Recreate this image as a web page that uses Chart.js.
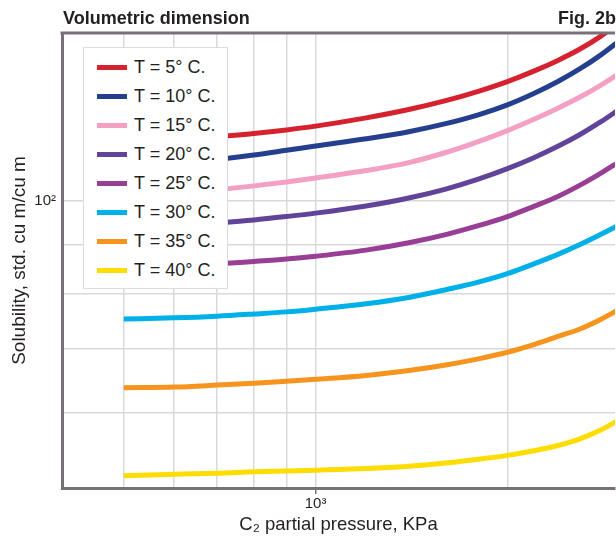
<!DOCTYPE html>
<html>
<head>
<meta charset="utf-8">
<script src="https://cdn.jsdelivr.net/npm/chart.js@4.4.1/dist/chart.umd.min.js"></script>
<style>
  html, body { margin: 0; padding: 0; background: #fff; }
  #wrap { position: relative; width: 616px; height: 536px; overflow: hidden;
          font-family: "Liberation Sans", Arial, sans-serif; color: #231f20; }
  #chart { position: absolute; left: 0; top: 0; }
  .head { position: absolute; top: 8px; font-weight: bold; font-size: 18px; }
  #legend { position: absolute; left: 83px; top: 47px; width: 145px; height: 242px;
            background: #fff; border: 1.5px solid #dcdcdc; box-sizing: border-box; padding-top: 5px; }
  .item { display: flex; align-items: center; height: 29px; font-size: 18px; }
  .swatch { width: 30px; height: 5px; margin-left: 13px; margin-right: 7px; }
</style>
</head>
<body>
<div id="wrap">
  <canvas id="chart" width="616" height="536"></canvas>
  <div class="head" style="left:63px">Volumetric dimension</div>
  <div class="head" style="right:0">Fig. 2b</div>
  <div id="legend"></div>
</div>
<script>
// C2 partial pressure, KPa
const pressure = [500, 600, 700, 800, 900, 1000, 1200, 1400, 1600, 1800, 2000, 2200, 2400, 2600, 2800, 3000];

// solubility, std. cu m/cu m, one list per temperature
const t5  = [115.2, 115.9, 116.8, 117.7, 118.7, 119.8, 122.2, 124.7, 127.4, 130.3, 133.4, 136.8, 140.4, 144.3, 148.8, 153.9];
const t10 = [108.4, 109.4, 110.5, 111.7, 113.0, 114.2, 116.2, 118.2, 120.5, 123.1, 126.1, 129.6, 133.4, 137.6, 142.2, 147.3];
const t15 = [100.9, 101.8, 102.7, 103.7, 104.7, 105.7, 107.6, 109.7, 112.4, 115.4, 118.5, 121.8, 125.1, 128.5, 132.2, 136.1];
const t20 = [93.5, 94.1, 94.8, 95.5, 96.3, 97.1, 98.8, 100.7, 102.9, 105.4, 108.1, 111.0, 114.1, 117.4, 121.0, 124.8];
const t25 = [85.1, 85.5, 85.9, 86.4, 86.9, 87.5, 88.8, 90.4, 92.2, 94.2, 96.3, 98.7, 101.1, 103.9, 106.9, 110.0];
const t30 = [75.2, 75.4, 75.7, 76.1, 76.5, 77.0, 78.0, 79.2, 80.7, 82.2, 83.9, 85.9, 87.9, 90.0, 92.2, 94.4];
const t35 = [63.7, 63.8, 64.1, 64.4, 64.7, 65.0, 65.6, 66.4, 67.3, 68.3, 69.4, 70.7, 72.1, 73.4, 75.1, 77.0];
const t40 = [51.5, 51.7, 51.8, 52.0, 52.1, 52.2, 52.4, 52.7, 53.1, 53.6, 54.1, 54.7, 55.4, 56.3, 57.5, 59.0];

const labels = ["T = 5° C.", "T = 10° C.", "T = 15° C.", "T = 20° C.",
                "T = 25° C.", "T = 30° C.", "T = 35° C.", "T = 40° C."];
const series = [t5, t10, t15, t20, t25, t30, t35, t40];
const colors = ["#d6222e", "#243f8e", "#f4a0c4", "#62439a", "#983f95", "#00b0e8", "#f7941e", "#ffdd00"];

const xGrid = [500, 600, 700, 800, 900, 1000, 2000];
const yGrid = [60, 70, 80, 90, 100];

const axisColor = "#787178";
const gridColor = "#d9d9d9";
const textColor = "#231f20";

Chart.defaults.font.family = '"Liberation Sans", Arial, sans-serif';

// top edge of the frame
const topBorder = {
  id: "topBorder",
  afterDraw(chart) {
    const { ctx, chartArea } = chart;
    ctx.save();
    ctx.strokeStyle = axisColor;
    ctx.lineWidth = 3;
    ctx.beginPath();
    ctx.moveTo(chartArea.left - 1.5, chartArea.top);
    ctx.lineTo(chartArea.right, chartArea.top);
    ctx.stroke();
    ctx.restore();
  },
};

const datasets = series.map((vals, i) => ({
  label: labels[i],
  data: vals.map((v, j) => ({ x: pressure[j], y: v })),
  borderColor: colors[i],
  borderWidth: 5,
  pointRadius: 0,
  cubicInterpolationMode: "monotone",
  clip: 0,
}));

new Chart(document.getElementById("chart"), {
  type: "line",
  data: { datasets },
  plugins: [topBorder],
  options: {
    responsive: false,
    animation: false,
    layout: { padding: { top: 33, right: 0, left: 0, bottom: 0 } },
    plugins: { legend: { display: false }, tooltip: { enabled: false } },
    scales: {
      x: {
        type: "logarithmic",
        min: 400,
        max: 2950,
        afterFit: (s) => { s.height = 48; },
        border: { color: axisColor, width: 3 },
        grid: {
          color: (c) => (c.tick && xGrid.includes(Math.round(c.tick.value)) ? gridColor : "transparent"),
          lineWidth: 1.5,
          tickLength: 6,
          tickColor: (c) => (c.tick && Math.round(c.tick.value) === 1000 ? axisColor : "transparent"),
        },
        ticks: {
          autoSkip: false,
          maxRotation: 0,
          padding: 1,
          color: textColor,
          font: { size: 15 },
          callback: (v) => (Math.round(v) === 1000 ? "10³" : ""),
        },
        title: {
          display: true,
          text: "C₂ partial pressure, KPa",
          color: textColor,
          font: { size: 18.5 },
          padding: { top: 2, bottom: 0 },
        },
      },
      y: {
        type: "logarithmic",
        min: 50,
        max: 150,
        afterFit: (s) => { s.width = 62; },
        border: { color: axisColor, width: 3 },
        grid: {
          color: (c) => (c.tick && yGrid.includes(Math.round(c.tick.value)) ? gridColor : "transparent"),
          lineWidth: 1.5,
          drawTicks: false,
        },
        ticks: {
          autoSkip: false,
          padding: 6,
          color: textColor,
          font: { size: 15 },
          callback: (v) => (Math.round(v) === 100 ? "10²" : ""),
        },
        title: {
          display: true,
          text: "Solubility, std. cu m/cu m",
          color: textColor,
          font: { size: 19 },
          padding: { top: 8, bottom: 0 },
        },
      },
    },
  },
});

// legend box drawn over the plot, as in the figure
const legend = document.getElementById("legend");
labels.forEach((text, i) => {
  const row = document.createElement("div");
  row.className = "item";
  row.innerHTML = `<span class="swatch" style="background:${colors[i]}"></span><span>${text}</span>`;
  legend.appendChild(row);
});
</script>
</body>
</html>
